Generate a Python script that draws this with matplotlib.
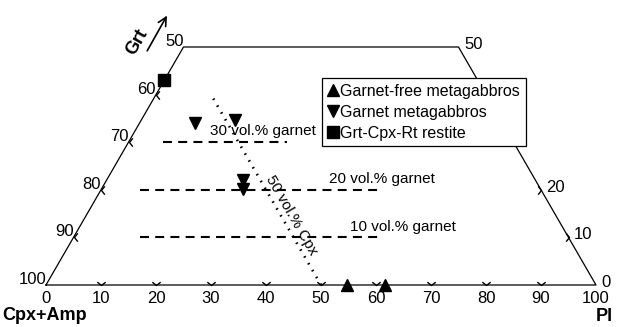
import numpy as np
import matplotlib
matplotlib.use("Agg")
import matplotlib.pyplot as plt
from matplotlib.path import Path

plt.rcParams['font.family'] = ['Liberation Sans', 'DejaVu Sans']

# modal compositions (vol.%), Pl and Grt; Cpx+Amp = 100 - Pl - Grt
free_pl = [54.7, 61.6]
free_grt = [0.0, 0.0]
gab_pl = [10.1, 17.1, 24.8, 25.7]
gab_grt = [34.0, 34.7, 22.0, 20.2]
rest_pl = [0.0]
rest_grt = [43.0]

# iso-garnet reference lines (Pl range) and the 50 vol.% Cpx line
garnet_levels = [30, 20, 10]
garnet_pl_range = [(6.3, 28.8), (7.1, 51.3), (12.1, 56.3)]
cpx50_grt = [0.0, 39.5]

# axis ticks / labels
bottom_ticks = [10, 20, 30, 40, 50, 60, 70, 80, 90]
bottom_labels = [0, 10, 20, 30, 40, 50, 60, 70, 80, 90, 100]
left_ticks = [10, 20, 30, 40]          # Grt
left_labels = [100, 90, 80, 70, 60, 50]  # Cpx+Amp
right_ticks = [10, 20]
right_labels = [0, 10, 20, 50]
grt_max = 50


def tern(pl, grt):
    pl = np.asarray(pl, dtype=float)
    grt = np.asarray(grt, dtype=float)
    return pl + grt / 2.0, grt


def chevron(kind):
    if kind == 'down':
        v = [(-1, 0.8), (0, 0), (1, 0.8)]
    elif kind == 'left':
        v = [(0.8, 1), (0, 0), (0.8, -1)]
    else:
        v = [(-0.8, 1), (0, 0), (-0.8, -1)]
    return Path(v, [Path.MOVETO, Path.LINETO, Path.LINETO])


fig = plt.figure(figsize=(6.18, 3.27), dpi=100)
ax = fig.add_axes([0, 0, 1, 1])
sx, sy = 5.5, 4.76
ax.set_xlim(-46 / sx, (618 - 46) / sx)
ax.set_ylim(-42 / sy, (327 - 42) / sy)
ax.axis('off')

# frame of truncated triangle
fx, fy = tern([0, 0, 100 - grt_max, 100, 0], [0, grt_max, grt_max, 0, 0])
ax.plot(fx, fy, color='black', lw=0.9, zorder=2)

# ticks
tk = dict(ls='none', ms=6, mfc='none', mec='black', mew=1.0)
bx, by = tern(bottom_ticks, [0] * len(bottom_ticks))
ax.plot(bx, by, marker=chevron('down'), **tk)
lx, ly = tern([0] * len(left_ticks), left_ticks)
ax.plot(lx, ly, marker=chevron('left'), **tk)
rx, ry = tern([100 - g for g in right_ticks], right_ticks)
ax.plot(rx, ry, marker=chevron('right'), **tk)

# tick labels
fs = 12
for lab in bottom_labels:
    x, y = tern(lab, 0)
    ax.annotate(str(lab), (x, y), xytext=(0, -4.5), textcoords='offset points',
                ha='center', va='top', fontsize=fs)
for lab in left_labels:
    x, y = tern(0, 100 - lab)
    ax.annotate(str(lab), (x, y), xytext=(0, -1.5), textcoords='offset points',
                ha='right', va='bottom', fontsize=fs)
for lab in right_labels:
    x, y = tern(100 - lab, lab)
    ax.annotate(str(lab), (x, y), xytext=(4, 2), textcoords='offset points',
                ha='left', va='center', fontsize=fs)

# axis titles
ax.text(-7.9, -6.5, 'Cpx+Amp', fontsize=13, fontweight='bold', ha='left', va='center')
ax.text(103.0, -6.6, 'Pl', fontsize=13, fontweight='bold', ha='right', va='center')
ax.text(16.6, 51.0, 'Grt', fontsize=13, fontweight='bold', rotation=60,
        ha='center', va='center')
ax.annotate('', xy=(22.0, 56.6), xytext=(18.4, 49.2),
            arrowprops=dict(arrowstyle='->', lw=1.2, color='black',
                            mutation_scale=15, shrinkA=0, shrinkB=0))

# iso-garnet dashed lines
ann_x = [29.8, 51.5, 55.3]
for g, (p0, p1), tx in zip(garnet_levels, garnet_pl_range, ann_x):
    x, y = tern([p0, p1], [g, g])
    ax.plot(x, y, color='black', lw=1.5, dashes=(4.3, 3.0), zorder=1)
    ax.text(tx, g + 0.8, '%d vol.%% garnet' % g, fontsize=11, ha='left', va='bottom')

# 50 vol.% Cpx dotted line
cx, cy = tern([50 - g for g in cpx50_grt], cpx50_grt)
ax.plot(cx, cy, color='black', lw=1.9, dashes=(0.6, 2.4), zorder=1)
ax.text(44.6, 14.6, '50 vol.% Cpx', fontsize=11, rotation=-60,
        rotation_mode='anchor', ha='center', va='center')

# samples
x, y = tern(free_pl, free_grt)
ax.plot(x, y, ls='none', marker='^', ms=8, color='black', label='Garnet-free metagabbros', zorder=3)
x, y = tern(gab_pl, gab_grt)
ax.plot(x, y, ls='none', marker='v', ms=8, color='black', label='Garnet metagabbros', zorder=3)
x, y = tern(rest_pl, rest_grt)
ax.plot(x, y, ls='none', marker='s', ms=8, color='black', label='Grt-Cpx-Rt restite', zorder=3)

leg = ax.legend(loc='upper left', bbox_to_anchor=(322 / 618, 1 - 78 / 327),
                borderaxespad=0, fancybox=False, edgecolor='black', framealpha=1,
                fontsize=11.5, handlelength=0.7, handletextpad=0.1,
                labelspacing=0.38, borderpad=0.35)
leg.get_frame().set_linewidth(0.9)
leg.set_zorder(5)

fig.savefig('out.png', dpi=100)
